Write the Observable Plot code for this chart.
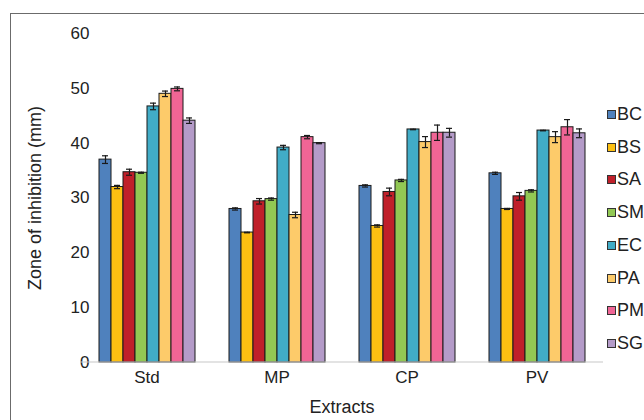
<!DOCTYPE html>
<html>
<head>
<meta charset="utf-8">
<script src="https://cdn.jsdelivr.net/npm/d3@7"></script>
<script src="https://cdn.jsdelivr.net/npm/@observablehq/plot@0.6"></script>
<style>
  html, body { margin: 0; padding: 0; background: #fff; overflow: hidden; }
  body { width: 644px; height: 420px; position: relative; font-family: "Liberation Sans", Arial, sans-serif; }
  #frame { position: absolute; left: 10px; top: 13px; width: 800px; height: 600px; border: 1.5px solid #6b6b6b; box-sizing: border-box; }
  #chart { position: absolute; left: 0; top: 0; }
  #legend { position: absolute; left: 607px; top: 0; }
  .li { position: absolute; left: 0; white-space: nowrap; font-size: 18px; color: #222; line-height: 18px; }
  .sw { display: inline-block; width: 7px; height: 7px; border: 1px solid #333; margin-right: 1px; vertical-align: 1px; }
  #xtitle { position: absolute; left: 0; width: 684px; top: 397px; text-align: center; font-size: 18px; color: #222; }
</style>
</head>
<body>
<div id="frame"></div>
<div id="chart"></div>
<div id="legend"></div>
<div id="xtitle">Extracts</div>
<script>
const organisms = ["BC", "BS", "SA", "SM", "EC", "PA", "PM", "SG"];
const extracts = ["Std", "MP", "CP", "PV"];
const colors = ["#4f81bd", "#fdc012", "#c0202a", "#92c853", "#41acc7", "#fdcb6a", "#f06595", "#b49bc8"];
const yTicks = [0, 10, 20, 30, 40, 50, 60];

const stdValues = [37.0, 32.0, 34.7, 34.6, 46.7, 49.0, 49.9, 44.1];
const stdErr    = [0.7, 0.3, 0.55, 0.1, 0.6, 0.5, 0.35, 0.5];
const mpValues  = [28.0, 23.7, 29.4, 29.8, 39.2, 26.9, 41.1, 40.0];
const mpErr     = [0.2, 0.05, 0.5, 0.2, 0.4, 0.5, 0.3, 0.1];
const cpValues  = [32.2, 24.9, 31.1, 33.2, 42.5, 40.2, 41.9, 41.9];
const cpErr     = [0.2, 0.2, 0.7, 0.2, 0.05, 1.0, 1.4, 0.8];
const pvValues  = [34.5, 28.0, 30.3, 31.3, 42.3, 41.1, 42.9, 41.8];
const pvErr     = [0.2, 0.1, 0.7, 0.2, 0.05, 1.0, 1.4, 0.8];

const seriesByExtract = [
  [stdValues, stdErr], [mpValues, mpErr], [cpValues, cpErr], [pvValues, pvErr]
];
const rows = [];
extracts.forEach((ex, i) => {
  const [vals, errs] = seriesByExtract[i];
  organisms.forEach((org, j) => {
    rows.push({extract: ex, org, value: vals[j], err: errs[j]});
  });
});

const W = 644, H = 420;
const plot = Plot.plot({
  width: W,
  height: H,
  marginLeft: 80,
  marginRight: 41,
  marginTop: 33,
  marginBottom: 58,
  style: {fontFamily: "Liberation Sans, Arial, sans-serif", fontSize: "17px", color: "#222", background: "transparent"},
  fx: {domain: extracts, paddingInner: 0.22, paddingOuter: 0.11, label: null},
  x: {domain: organisms, padding: 0, axis: null},
  y: {domain: [0, 60], ticks: yTicks},
  color: {domain: organisms, range: colors},
  marks: [
    Plot.axisY({ticks: yTicks, tickSize: 0, tickPadding: 7, fontSize: 17, label: null}),
    Plot.axisY({ticks: [], tickSize: 0, fontSize: 18, label: "Zone of inhibition (mm)", labelAnchor: "center", labelOffset: 68, labelArrow: "none"}),
    Plot.axisFx({anchor: "bottom", tickSize: 0, tickPadding: 8, fontSize: 17, label: null}),
    Plot.barY(rows, {fx: "extract", x: "org", y: "value", fill: "org", stroke: "#1a1a1a", strokeWidth: 1, inset: 0}),
    Plot.ruleX(rows, {fx: "extract", x: "org", y1: d => d.value - d.err, y2: d => d.value + d.err, stroke: "#1a1a1a", strokeWidth: 1.2}),
    Plot.tickY(rows, {fx: "extract", x: "org", y: d => d.value - d.err, stroke: "#1a1a1a", strokeWidth: 1.2, insetLeft: 3, insetRight: 3}),
    Plot.tickY(rows, {fx: "extract", x: "org", y: d => d.value + d.err, stroke: "#1a1a1a", strokeWidth: 1.2, insetLeft: 3, insetRight: 3})
  ]
});
document.getElementById("chart").appendChild(plot);

// full-width baseline at y = 0 via the plot's own y scale
const y0 = plot.scale("y").apply(0);
d3.select(plot).append("line")
  .attr("x1", 80).attr("x2", W - 41)
  .attr("y1", y0).attr("y2", y0)
  .attr("stroke", "#c8c8c8").attr("stroke-width", 1.2);

// legend
const legend = document.getElementById("legend");
const legendTop = 105, legendStep = 32.7;
organisms.forEach((org, i) => {
  const el = document.createElement("div");
  el.className = "li";
  el.style.top = (legendTop + i * legendStep) + "px";
  el.innerHTML = `<span class="sw" style="background:${colors[i]}"></span>${org}`;
  legend.appendChild(el);
});
</script>
</body>
</html>
